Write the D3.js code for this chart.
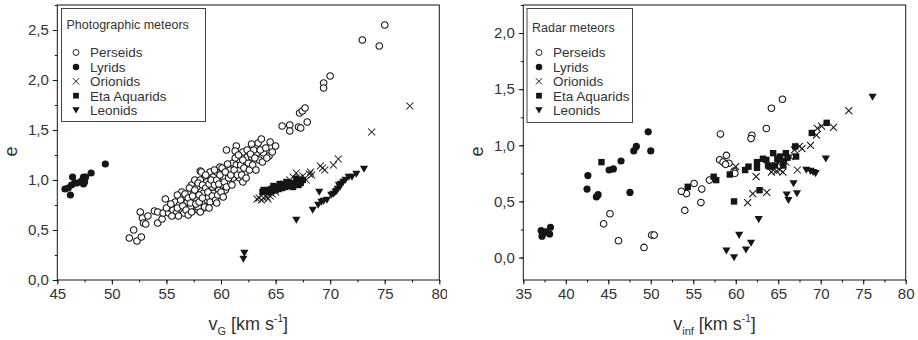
<!DOCTYPE html>
<html>
<head>
<meta charset="utf-8">
<script src="https://cdn.jsdelivr.net/npm/d3@7"></script>
<style>
  body { margin: 0; background: #fff; }
  svg { display: block; font-family: "Liberation Sans", Arial, sans-serif; }
</style>
</head>
<body>
<div id="chart"></div>
<script>
// ---- data: [velocity km/s, eccentricity] ----
const photoPerseids = [
  [51.6,0.42],[52.0,0.50],[52.3,0.39],[52.7,0.43],[52.6,0.68],[52.8,0.62],[52.9,0.57],[53.1,0.56],
  [53.3,0.64],[53.9,0.69],[54.2,0.68],[54.2,0.57],[54.6,0.61],[54.9,0.81],[54.7,0.67],[55.2,0.67],
  [55.3,0.72],[55.6,0.70],[55.8,0.78],[55.9,0.67],[56.2,0.75],[56.4,0.88],[56.5,0.83],[56.6,0.67],
  [56.9,0.78],[57.2,0.73],[57.3,0.95],[57.5,0.87],[57.6,1.00],[57.8,0.80],[57.9,0.70],[58.1,1.09],
  [58.2,0.90],[58.5,1.02],[58.7,0.80],[58.4,0.72],[57.8,0.93],[58.2,1.08],[58.1,1.00],[58.7,0.98],
  [59.0,1.08],[59.3,1.03],[59.6,1.08],[59.9,1.13],[60.2,1.03],[60.7,0.97],[61.1,1.02],[60.8,1.10],
  [61.1,1.17],[61.4,1.15],[61.7,1.20],[61.7,1.10],[62.2,1.07],[62.5,1.17],[62.0,1.28],[62.4,1.23],
  [62.8,1.23],[63.5,1.20],[63.3,1.27],[63.9,1.27],[64.4,1.24],[63.0,1.30],[63.4,1.37],[62.8,1.36],
  [63.7,1.41],[64.5,1.38],[65.0,1.34],[61.4,1.34],[61.3,1.29],[60.5,1.30],[57.9,0.73],[58.5,0.73],
  [58.8,0.83],[59.3,0.87],[59.8,0.90],[60.1,0.95],[59.2,0.93],[58.4,0.87],[60.4,0.90],[61.7,1.02],
  [62.0,0.98],[56.0,0.72],[56.3,0.80],[56.5,0.74],[56.7,0.86],[56.8,0.70],[57.0,0.82],[57.1,0.92],
  [57.2,0.77],[57.4,0.84],[57.6,0.90],[57.7,0.76],[57.9,0.97],[58.0,0.85],[58.0,0.78],[58.3,0.95],
  [58.3,0.82],[58.6,0.92],[58.6,1.05],[58.8,0.88],[58.9,0.96],[59.0,0.78],[59.1,1.00],[59.2,0.84],
  [59.4,0.95],[59.4,1.10],[59.5,0.80],[59.6,1.00],[59.7,0.85],[59.8,0.96],[59.9,1.05],[60.0,0.88],
  [60.1,1.12],[60.3,0.98],[60.4,1.08],[60.5,0.93],[60.6,1.16],[60.7,1.02],[60.9,1.05],[61.0,0.95],
  [61.2,1.10],[61.3,1.22],[61.5,1.05],[61.6,1.25],[61.8,1.15],[61.9,1.05],[62.0,1.20],[62.1,1.12],
  [62.3,1.02],[62.4,1.30],[62.6,1.10],[62.7,1.26],[62.9,1.15],[63.1,1.22],[63.2,1.10],[63.6,1.30],
  [63.8,1.18],[64.1,1.32],[64.2,1.22],[64.7,1.28],[57.0,0.65],[56.1,0.64],[55.5,0.64],[55.0,0.72],
  [55.4,0.76],[56.0,0.85],[57.3,0.68],[58.1,0.68],[58.9,0.72],[59.6,0.77],[60.2,0.83],
  [65.6,1.54],[66.3,1.55],[66.3,1.49],[67.1,1.53],[67.3,1.52],[67.9,1.58],[67.2,1.67],[67.45,1.69],
  [67.7,1.72],[69.4,1.97],[69.4,1.92],[70.0,2.04],[72.95,2.40],[74.5,2.34],[75.0,2.55]
];
const photoLyrids = [
  [45.7,0.91],[46.0,0.92],[46.2,0.85],[46.3,0.95],[46.4,1.03],[46.6,0.97],[46.8,0.97],[47.2,0.99],
  [47.4,1.03],[47.5,0.98],[47.4,0.96],[47.6,1.03],[48.1,1.07],[49.4,1.16]
];
const photoOrionids = [
  [63.3,0.81],[63.5,0.82],[63.7,0.80],[63.9,0.82],[64.2,0.83],[64.3,0.81],[64.5,0.84],[64.7,0.86],
  [65.0,0.88],[65.4,0.95],[65.8,0.96],[66.3,1.00],[66.6,1.03],[66.9,1.07],[67.2,1.02],[67.5,1.04],
  [67.8,1.00],[68.1,1.06],[68.2,1.08],[68.3,1.05],[69.1,1.14],[69.3,1.12],[69.5,1.10],[70.3,1.15],
  [70.75,1.21],[73.8,1.48],[77.3,1.74]
];
const photoEtaAquarids = [
  [63.8,0.88],[63.9,0.90],[64.1,0.89],[64.3,0.90],[64.4,0.88],[64.6,0.91],[64.7,0.89],[64.9,0.92],
  [65.0,0.90],[65.2,0.93],[65.3,0.91],[65.5,0.94],[65.6,0.92],[65.8,0.95],[65.9,0.93],[66.1,0.96],
  [66.2,0.94],[66.4,0.95],[66.5,0.97],[66.6,0.93],[66.8,0.96],[67.0,0.98],[67.1,0.95],[67.3,0.97],
  [67.5,1.00],[66.0,0.98],[65.4,0.96],[64.8,0.94],[66.9,1.01],[67.2,0.99]
];
const photoLeonids = [
  [62.05,0.21],[62.14,0.27],[66.9,0.60],[68.4,0.70],[68.9,0.75],[69.2,0.78],[69.0,0.88],[69.4,0.79],
  [69.7,0.80],[70.1,0.85],[70.3,0.86],[70.5,0.88],[70.7,0.91],[70.9,0.93],[71.0,0.96],[71.2,0.98],
  [71.4,1.00],[71.7,1.03],[72.0,1.03],[72.4,1.06],[73.1,1.11],[70.6,0.89],[70.8,0.95]
];

const radarPerseids = [
  [65.5,1.41],[64.2,1.33],[63.6,1.15],[58.2,1.10],[61.9,1.09],[61.8,1.06],[58.9,0.91],[58.1,0.87],
  [58.5,0.85],[59.2,0.84],[58.8,0.83],[59.8,0.77],[59.9,0.75],[55.1,0.66],[54.2,0.57],[53.6,0.59],
  [56.0,0.61],[56.9,0.69],[55.9,0.49],[54.0,0.42],[44.45,0.30],[45.2,0.39],[46.2,0.15],[49.2,0.09],
  [50.1,0.20],[50.4,0.20]
];
const radarLyrids = [
  [49.7,1.12],[48.3,0.99],[48.0,0.95],[50.0,0.95],[46.5,0.86],[45.6,0.79],[45.1,0.78],[42.6,0.73],
  [42.5,0.61],[43.8,0.56],[43.6,0.54],[47.55,0.58],[37.1,0.24],[37.2,0.19],[37.4,0.22],[37.6,0.23],
  [38.1,0.21],[38.2,0.27]
];
const radarOrionids = [
  [73.3,1.31],[71.5,1.16],[70.1,1.17],[69.6,1.15],[69.5,1.09],[68.8,1.00],[67.8,0.97],[67.5,0.99],
  [66.9,0.96],[67.25,0.78],[62.4,0.72],[63.65,0.58],[62.0,0.57],[61.4,0.49],[60.0,0.81],[64.4,0.78],
  [64.8,0.77],[65.2,0.78],[65.55,0.76],[65.0,0.84],[64.2,0.76],[65.9,0.85],[66.4,0.90],[64.7,0.82]
];
const radarEtaAquarids = [
  [44.2,0.85],[54.35,0.63],[57.4,0.72],[57.7,0.69],[59.3,0.74],[59.8,0.50],[61.1,0.78],[61.5,0.81],
  [62.5,0.85],[62.5,0.80],[62.8,0.60],[63.2,0.88],[63.6,0.87],[64.4,0.93],[64.0,0.81],[64.6,0.82],
  [65.2,0.90],[65.6,0.86],[65.9,0.93],[66.1,0.89],[65.6,0.82],[67.0,0.99],[67.1,0.90],[68.95,1.11],
  [70.7,1.20],[63.8,0.82],[64.9,0.88]
];
const radarLeonids = [
  [76.1,1.43],[70.6,0.88],[68.3,0.78],[68.8,0.77],[69.1,0.76],[69.4,0.75],[66.8,0.66],[67.2,0.57],
  [66.0,0.56],[66.2,0.51],[62.7,0.34],[60.4,0.20],[58.9,0.06],[59.8,0.00],[61.2,0.07],[61.8,0.13]
];

const showerNames = ['Perseids', 'Lyrids', 'Orionids', 'Eta Aquarids', 'Leonids'];
const photoXTicks = [45, 50, 55, 60, 65, 70, 75, 80];
const photoYTicks = [0, 0.5, 1.0, 1.5, 2.0, 2.5];
const radarXTicks = [35, 40, 45, 50, 55, 60, 65, 70, 75, 80];
const radarYTicks = [0, 0.5, 1.0, 1.5, 2.0];

const W = 918, H = 340;
const ink = '#151515';
const textInk = '#333';

const svg = d3.select('#chart').append('svg')
  .attr('width', W)
  .attr('height', H);

// marker shapes, centred on 0,0
const markers = {
  Perseids: g => g.append('circle').attr('r', 3.3).attr('fill', '#fff').attr('stroke', ink).attr('stroke-width', 1.05),
  Lyrids: g => g.append('circle').attr('r', 3.6).attr('fill', ink),
  Orionids: g => g.append('path').attr('d', 'M-3.5,-3.5L3.5,3.5M-3.5,3.5L3.5,-3.5').attr('stroke', ink).attr('stroke-width', 1.05).attr('fill', 'none'),
  'Eta Aquarids': g => g.append('rect').attr('x', -3.2).attr('y', -3.2).attr('width', 6.4).attr('height', 6.4).attr('fill', ink),
  Leonids: g => g.append('path').attr('d', 'M-4.1,-3.3L4.1,-3.3L0,3.8Z').attr('fill', ink)
};

const fmt = d => d3.format('.1f')(d).replace('.', ',');

function drawPanel(opts) {
  const { x0, x1, y0, y1, xDomain, yDomain, xTicks, yTicks, series, title,
          legendBox, sub, clipRight } = opts;

  const x = d3.scaleLinear().domain(xDomain).range([x0, x1]);
  const y = d3.scaleLinear().domain(yDomain).range([y1, y0]);

  const clipId = 'clip-' + sub;
  svg.append('clipPath').attr('id', clipId)
    .append('rect').attr('x', x0 - 70).attr('y', 0).attr('width', clipRight - x0 + 70).attr('height', H);

  const panel = svg.append('g').attr('clip-path', `url(#${clipId})`);

  // minor ticks
  const xMinor = d3.range(xDomain[0], xDomain[1] + 0.01, 2.5);
  const yMinor = d3.range(Math.ceil(yDomain[0] / 0.25) * 0.25, yDomain[1] + 0.001, 0.25);

  panel.append('g')
    .attr('transform', `translate(0,${y1})`)
    .call(d3.axisBottom(x).tickValues(xMinor).tickSize(2.5).tickFormat(''))
    .call(g => g.select('.domain').remove());
  panel.append('g')
    .attr('transform', `translate(${x0},0)`)
    .call(d3.axisLeft(y).tickValues(yMinor).tickSize(2.5).tickFormat(''))
    .call(g => g.select('.domain').remove());

  const xAxis = panel.append('g')
    .attr('transform', `translate(0,${y1})`)
    .call(d3.axisBottom(x).tickValues(xTicks).tickSize(4.5).tickPadding(4).tickFormat(d3.format('d')));
  const yAxis = panel.append('g')
    .attr('transform', `translate(${x0},0)`)
    .call(d3.axisLeft(y).tickValues(yTicks).tickSize(4.5).tickPadding(4).tickFormat(fmt));

  [xAxis, yAxis].forEach(a => {
    a.select('.domain').remove();
    a.selectAll('text').attr('font-size', 15).attr('fill', textInk).attr('font-family', '"Liberation Sans", Arial, sans-serif');
  });
  panel.selectAll('.tick line').attr('stroke', ink);

  // frame
  panel.append('rect')
    .attr('x', x0).attr('y', y0)
    .attr('width', x1 - x0).attr('height', y1 - y0)
    .attr('fill', 'none').attr('stroke', ink).attr('stroke-width', 1);

  // points
  const plot = panel.append('g');
  series.forEach(s => {
    s.data.forEach(d => {
      const g = plot.append('g').attr('transform', `translate(${x(d[0])},${y(d[1])})`);
      markers[s.name](g);
    });
  });

  // legend
  const lg = panel.append('g');
  lg.append('rect')
    .attr('x', legendBox.x).attr('y', legendBox.y)
    .attr('width', legendBox.w).attr('height', legendBox.h)
    .attr('fill', '#fff').attr('stroke', '#444').attr('stroke-width', 1);
  lg.append('text')
    .attr('x', legendBox.x + 5).attr('y', legendBox.y + legendBox.titleDy)
    .attr('font-size', 12.5).attr('fill', textInk)
    .text(title);
  showerNames.forEach((name, i) => {
    const cy = legendBox.y + 44 + i * 14.4;
    const g = lg.append('g').attr('transform', `translate(${legendBox.symX},${cy}) scale(0.9)`);
    markers[name](g);
    lg.append('text')
      .attr('x', legendBox.symX + 14).attr('y', cy)
      .attr('dy', '0.36em')
      .attr('font-size', 13.5).attr('fill', textInk)
      .text(name);
  });

  // axis titles
  const xt = panel.append('text')
    .attr('x', (x0 + x1) / 2).attr('y', 330)
    .attr('text-anchor', 'middle')
    .attr('font-size', 18).attr('fill', textInk);
  xt.append('tspan').text('v');
  xt.append('tspan').attr('font-size', 11).attr('dy', 5).text(sub);
  xt.append('tspan').attr('dy', -5).text(' [km s');
  xt.append('tspan').attr('font-size', 10).attr('dy', -8).text('-1');
  xt.append('tspan').attr('dy', 8).text(']');

  panel.append('text')
    .attr('transform', `translate(${x0 - 40},${(y0 + y1) / 2 + 9}) rotate(-90)`)
    .attr('text-anchor', 'middle')
    .attr('font-size', 18).attr('fill', textInk)
    .text('e');
}

drawPanel({
  x0: 57.3, x1: 439.3, y0: 5, y1: 280,
  xDomain: [45, 80], yDomain: [0, 2.75],
  xTicks: photoXTicks, yTicks: photoYTicks,
  title: 'Photographic meteors', sub: 'G', clipRight: 447,
  legendBox: { x: 61.5, y: 8.5, w: 144, h: 113, titleDy: 20, symX: 76 },
  series: [
    { name: 'Perseids', data: photoPerseids },
    { name: 'Lyrids', data: photoLyrids },
    { name: 'Eta Aquarids', data: photoEtaAquarids },
    { name: 'Orionids', data: photoOrionids },
    { name: 'Leonids', data: photoLeonids }
  ]
});

drawPanel({
  x0: 523.3, x1: 905.7, y0: 5, y1: 280,
  xDomain: [35, 80], yDomain: [-0.2, 2.25],
  xTicks: radarXTicks, yTicks: radarYTicks,
  title: 'Radar meteors', sub: 'inf', clipRight: 918,
  legendBox: { x: 527, y: 8.5, w: 105.5, h: 114, titleDy: 23, symX: 539 },
  series: [
    { name: 'Perseids', data: radarPerseids },
    { name: 'Lyrids', data: radarLyrids },
    { name: 'Eta Aquarids', data: radarEtaAquarids },
    { name: 'Orionids', data: radarOrionids },
    { name: 'Leonids', data: radarLeonids }
  ]
});
</script>
</body>
</html>
